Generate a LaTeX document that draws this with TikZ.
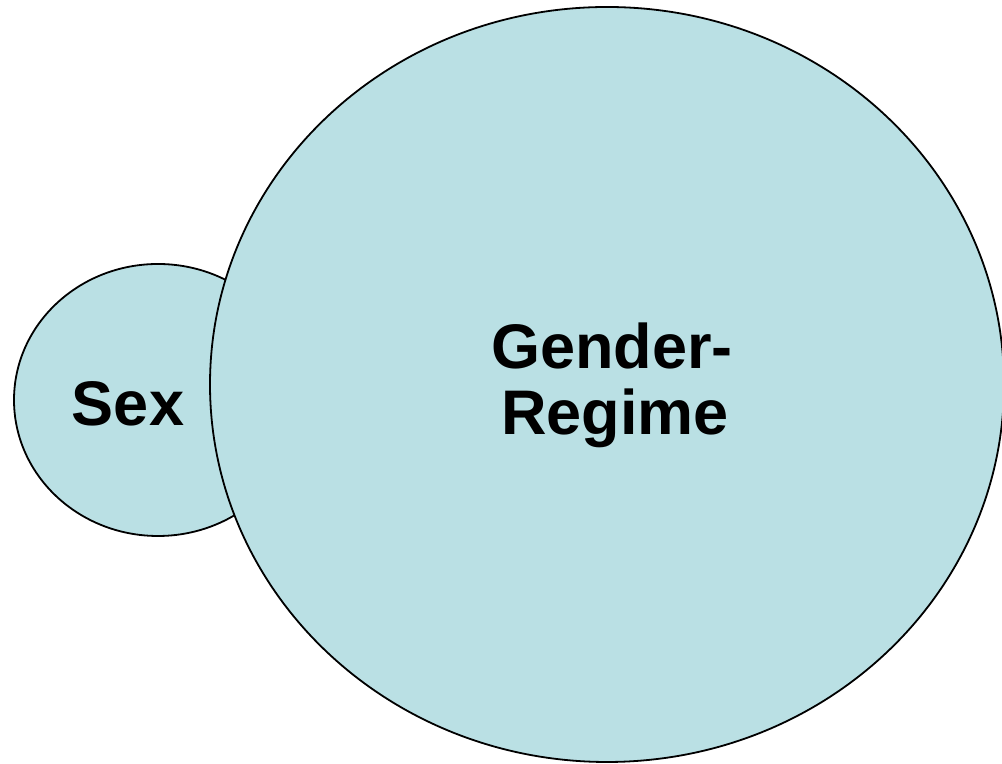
\documentclass[tikz,border=0pt]{standalone}
\usepackage{fontspec}
\setmainfont{Liberation Sans}
\usepackage{tikz}
\usetikzlibrary{shapes.geometric}
\definecolor{blobfill}{RGB}{186,224,228}
\tikzset{
  blob/.style={ellipse, draw=black, line width=0.9pt, fill=blobfill, inner sep=0pt},
  lbl/.style={anchor=base, inner sep=0pt, font=\bfseries\fontsize{31.5}{33}\selectfont}
}

\begin{document}
\begin{tikzpicture}[x=0.5pt,y=0.5pt]
			\useasboundingbox (0,0) rectangle (1002,764);
			
			\node[blob, minimum width=144pt, minimum height=136pt] (sex) at (158,364) {};
			\node[blob, minimum width=397pt, minimum height=377.5pt] (gender) at (607,379.5) {};
			\node[lbl] (sexlbl) at (128,338) {Sex};
			\node[lbl] (genderlbl) at (612,395) {Gender-};
			\node[lbl] (regimelbl) at (615,329) {Regime};
		\end{tikzpicture}
\end{document}
